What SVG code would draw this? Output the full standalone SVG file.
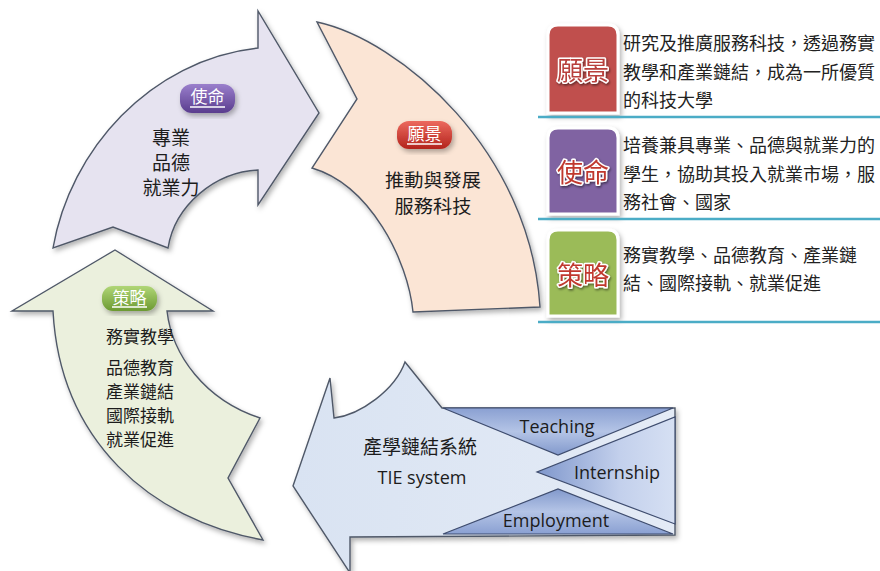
<svg xmlns="http://www.w3.org/2000/svg" width="880" height="571" viewBox="0 0 880 571">
<defs>
  <filter id="sh" x="-10%" y="-10%" width="130%" height="130%">
    <feDropShadow dx="2" dy="3" stdDeviation="2.5" flood-color="#000" flood-opacity="0.3"/>
  </filter>
  <filter id="tsh" x="-20%" y="-20%" width="150%" height="150%">
    <feDropShadow dx="1" dy="1.5" stdDeviation="1" flood-color="#000" flood-opacity="0.5"/>
  </filter>
  <linearGradient id="gPur" x1="0" y1="0" x2="0" y2="1">
    <stop offset="0" stop-color="#9a7fcc"/><stop offset="1" stop-color="#5a3d8e"/>
  </linearGradient>
  <linearGradient id="gRed" x1="0" y1="0" x2="0" y2="1">
    <stop offset="0" stop-color="#ec6a5e"/><stop offset="1" stop-color="#b3241c"/>
  </linearGradient>
  <linearGradient id="gGrn" x1="0" y1="0" x2="0" y2="1">
    <stop offset="0" stop-color="#b0d676"/><stop offset="1" stop-color="#6c9a32"/>
  </linearGradient>
  <linearGradient id="gBlue" x1="0" y1="0" x2="1" y2="0">
    <stop offset="0" stop-color="#d9e3f2"/><stop offset="1" stop-color="#e4ebf6"/>
  </linearGradient>
  <linearGradient id="gTri1" x1="0" y1="0" x2="0" y2="1">
    <stop offset="0" stop-color="#8aa0d2"/><stop offset="0.5" stop-color="#b4c4e6"/><stop offset="1" stop-color="#8299cc"/>
  </linearGradient>
  <linearGradient id="gTri2" x1="0" y1="0" x2="1" y2="0">
    <stop offset="0" stop-color="#7f97cc"/><stop offset="0.6" stop-color="#c3d0ec"/><stop offset="1" stop-color="#d6e0f3"/>
  </linearGradient>
  <linearGradient id="gTri3" x1="0" y1="1" x2="0" y2="0">
    <stop offset="0" stop-color="#8aa0d2"/><stop offset="0.5" stop-color="#b4c4e6"/><stop offset="1" stop-color="#8299cc"/>
  </linearGradient>
</defs>
<style>
  .arrow { stroke: #4f5868; stroke-width: 1.4; stroke-linejoin: miter; }
  .zh { font-family: "Noto Sans CJK TC", "Noto Sans CJK SC", sans-serif; fill: #1c1c1c; }
  .en { font-family: "Open Sans", "Noto Sans", sans-serif; fill: #1c1c1c; font-size: 18px; }
  .pill { font-family: "Noto Sans CJK TC", sans-serif; fill: #ffffff; font-size: 17px; text-anchor: middle; }
  .desc { font-family: "Noto Sans CJK TC", "Noto Sans CJK SC", sans-serif; fill: #222; font-size: 18px; }
  .lbl { font-family: "Noto Sans CJK TC", sans-serif; font-size: 26px; text-anchor: middle; stroke: #ffffff; stroke-width: 3; paint-order: stroke; stroke-linejoin: round; }
  .rule { stroke: #4bacc6; stroke-width: 2.5; }
  .ul { stroke: #ffffff; stroke-width: 1.3; }
</style>

<!-- 使命 arrow (lilac) -->
<g id="node-mission">
  <path class="arrow" filter="url(#sh)" fill="#e6e3f0" d="M53,248 C70,150 150,60 258,48 L258,11 L319,113 L258,205 L258,170 C215,172 175,205 168,248 L113,227 Z"/>
  <rect x="180" y="84" width="55" height="29" rx="12" fill="url(#gPur)" filter="url(#sh)"/>
  <text class="pill" x="207.5" y="103">使命</text>
  <line class="ul" x1="190" y1="107" x2="225" y2="107"/>
  <text class="zh" font-size="19" text-anchor="middle" x="171" y="145">專業</text>
  <text class="zh" font-size="19" text-anchor="middle" x="171" y="170">品德</text>
  <text class="zh" font-size="19" text-anchor="middle" x="171" y="195">就業力</text>
</g>

<!-- 願景 arrow (peach) -->
<g id="node-vision">
  <path class="arrow" filter="url(#sh)" fill="#fbe5d5" d="M317,22 C400,40 530,150 540,307 L413,312 C408,260 370,185 312,168 L357,99 Z"/>
  <rect x="397" y="121" width="55" height="28" rx="12" fill="url(#gRed)" filter="url(#sh)"/>
  <text class="pill" x="424.5" y="140">願景</text>
  <line class="ul" x1="407" y1="144" x2="442" y2="144"/>
  <text class="zh" font-size="18.5" text-anchor="middle" x="433" y="187" textLength="96" lengthAdjust="spacingAndGlyphs">推動與發展</text>
  <text class="zh" font-size="18.5" text-anchor="middle" x="433" y="213" textLength="77" lengthAdjust="spacingAndGlyphs">服務科技</text>
</g>

<!-- 策略 arrow (green) -->
<g id="node-strategy">
  <path class="arrow" filter="url(#sh)" fill="#ebf0dd" d="M115,250 L213,311 L167,311 C172,355 205,400 260,418 L228,478 L263,540 C150,520 60,440 53,311 L12,311 Z"/>
  <rect x="102" y="286" width="55" height="25" rx="11" fill="url(#gGrn)" filter="url(#sh)"/>
  <text class="pill" x="129.5" y="304">策略</text>
  <line class="ul" x1="112" y1="307" x2="147" y2="307"/>
  <text class="zh" font-size="17" x="106" y="343" textLength="68" lengthAdjust="spacingAndGlyphs">務實教學</text>
  <text class="zh" font-size="17" x="106" y="374" textLength="68" lengthAdjust="spacingAndGlyphs">品德教育</text>
  <text class="zh" font-size="17" x="106" y="398" textLength="68" lengthAdjust="spacingAndGlyphs">產業鏈結</text>
  <text class="zh" font-size="17" x="106" y="422" textLength="68" lengthAdjust="spacingAndGlyphs">國際接軌</text>
  <text class="zh" font-size="17" x="106" y="446" textLength="68" lengthAdjust="spacingAndGlyphs">就業促進</text>
</g>

<!-- TIE system arrow (blue) -->
<g id="node-tie">
  <path class="arrow" filter="url(#sh)" fill="url(#gBlue)" d="M293,486 L330,378 L334,418 C360,415 395,390 405,362 L442,408 L675,408 L675,535 L350,537 L350,573 Z"/>
  <path fill="url(#gTri1)" stroke="#3e4c6e" stroke-width="1.2" d="M443,408 L673,408 L558,455 Z"/>
  <path fill="url(#gTri2)" stroke="#3e4c6e" stroke-width="1.2" d="M675,417 L675,524 L537,472 Z"/>
  <path fill="url(#gTri3)" stroke="#3e4c6e" stroke-width="1.2" d="M443,534 L673,534 L558,489 Z"/>
  <text class="zh" font-size="19" text-anchor="middle" x="420" y="454">產學鏈結系統</text>
  <text class="en" text-anchor="middle" x="422" y="484">TIE system</text>
  <text class="en" text-anchor="middle" x="557" y="433">Teaching</text>
  <text class="en" text-anchor="middle" x="617" y="479">Internship</text>
  <text class="en" text-anchor="middle" x="556" y="527">Employment</text>
</g>

<!-- Right panel rows -->
<g id="row-vision">
  <path d="M548,113 L548,35 Q548,25 558,25 L608,25 Q618,25 618,35 L618,113 Z" fill="#c0504d" stroke="#ffffff" stroke-width="3" filter="url(#sh)"/>
  <text class="lbl" x="583" y="80" fill="#b8403c" filter="url(#tsh)">願景</text>
  <text class="desc" x="623" y="50">研究及推廣服務科技，透過務實</text>
  <text class="desc" x="623" y="79">教學和產業鏈結，成為一所優質</text>
  <text class="desc" x="623" y="107">的科技大學</text>
  <line class="rule" x1="538" y1="117" x2="880" y2="117"/>
</g>
<g id="row-mission">
  <path d="M548,214 L548,138 Q548,128 558,128 L608,128 Q618,128 618,138 L618,214 Z" fill="#8064a2" stroke="#ffffff" stroke-width="3" filter="url(#sh)"/>
  <text class="lbl" x="583" y="182" fill="#c0392f" filter="url(#tsh)">使命</text>
  <text class="desc" x="623" y="152">培養兼具專業、品德與就業力的</text>
  <text class="desc" x="623" y="181">學生，協助其投入就業市場，服</text>
  <text class="desc" x="623" y="209">務社會、國家</text>
  <line class="rule" x1="538" y1="219" x2="880" y2="219"/>
</g>
<g id="row-strategy">
  <path d="M548,316 L548,240 Q548,230 558,230 L608,230 Q618,230 618,240 L618,316 Z" fill="#9bbb59" stroke="#ffffff" stroke-width="3" filter="url(#sh)"/>
  <text class="lbl" x="583" y="285" fill="#c0392f" filter="url(#tsh)">策略</text>
  <text class="desc" x="623" y="262">務實教學、品德教育、產業鏈</text>
  <text class="desc" x="623" y="290">結、國際接軌、就業促進</text>
  <line class="rule" x1="538" y1="322" x2="880" y2="322"/>
</g>
</svg>
